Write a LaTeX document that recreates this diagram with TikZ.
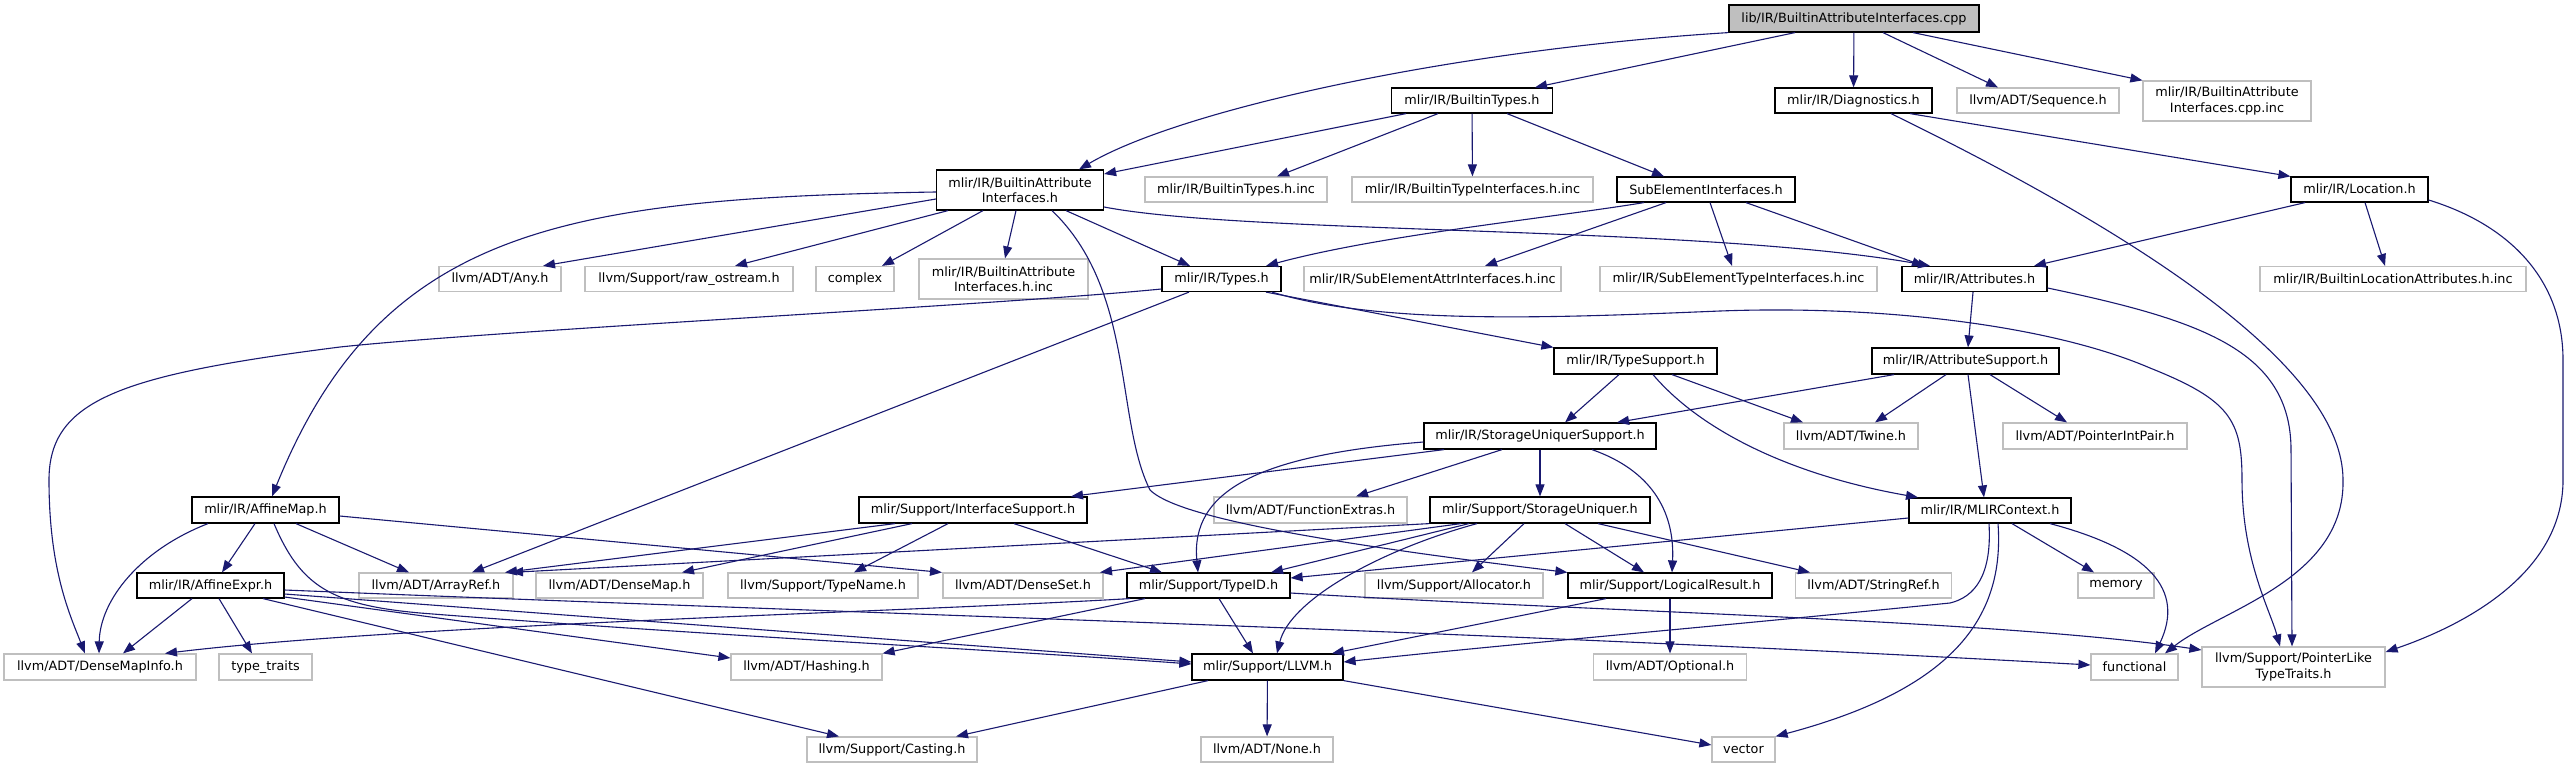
\documentclass[tikz,border=0pt]{standalone}
\usepackage{fontspec}
\setmainfont{DejaVu Sans}
\usetikzlibrary{arrows.meta}
\definecolor{grey75}{HTML}{BFBFBF}
\definecolor{edgecol}{HTML}{191970}
\newcommand{\fsz}{\fontsize{12.8}{15.2}\selectfont}
\tikzset{
  box/.style={rectangle, inner sep=0pt, minimum height=25pt, font=\fsz, align=center, fill=white, line width=1.2pt, text=black},
  nd/.style={box, draw=black},
  ext/.style={box, draw=grey75},
  root/.style={box, draw=black, fill=grey75},
  tall/.style={minimum height=40pt},
  e/.style={draw=edgecol, line width=1.1pt, -{Triangle[length=12pt,width=9pt]}},
}
\begin{document}
\begin{tikzpicture}[x=1pt,y=-1pt]
\useasboundingbox[fill=white] (0,0) rectangle (2571,768);
% nodes
\node[root, minimum width=250pt, minimum height=27pt] (cpp) at (1854,18.5) {lib/IR/BuiltinAttributeInterfaces.cpp};
\node[nd, minimum width=161pt] (bt) at (1472,100.5) {mlir/IR/BuiltinTypes.h};
\node[nd, minimum width=157pt] (diag) at (1853.5,100.5) {mlir/IR/Diagnostics.h};
\node[ext, minimum width=162pt] (seq) at (2038,100.5) {llvm/ADT/Sequence.h};
\node[ext, tall, minimum width=168pt] (cppinc) at (2227,101) {mlir/IR/BuiltinAttribute\\Interfaces.cpp.inc};
\node[nd, tall, minimum width=167pt] (bai) at (1020,190) {mlir/IR/BuiltinAttribute\\Interfaces.h};
\node[ext, minimum width=182pt] (btinc) at (1236,189.5) {mlir/IR/BuiltinTypes.h.inc};
\node[ext, minimum width=241pt] (btiinc) at (1472.5,189.5) {mlir/IR/BuiltinTypeInterfaces.h.inc};
\node[nd, minimum width=178pt] (sei) at (1706,189.5) {SubElementInterfaces.h};
\node[nd, minimum width=137pt] (loc) at (2359.5,189.5) {mlir/IR/Location.h};
\node[ext, minimum width=122pt] (any) at (500,279) {llvm/ADT/Any.h};
\node[ext, minimum width=208pt] (raw) at (689,279) {llvm/Support/raw\_ostream.h};
\node[ext, minimum width=78pt] (complex) at (855,279) {complex};
\node[ext, tall, minimum width=169pt] (baiinc) at (1003.5,279) {mlir/IR/BuiltinAttribute\\Interfaces.h.inc};
\node[nd, minimum width=119pt] (types) at (1221.5,279) {mlir/IR/Types.h};
\node[ext, minimum width=257pt] (seainc) at (1432.5,279) {mlir/IR/SubElementAttrInterfaces.h.inc};
\node[ext, minimum width=277pt] (setinc) at (1738.5,279) {mlir/IR/SubElementTypeInterfaces.h.inc};
\node[nd, minimum width=145pt] (attr) at (1974.5,279) {mlir/IR/Attributes.h};
\node[ext, minimum width=266pt] (blainc) at (2393,279) {mlir/IR/BuiltinLocationAttributes.h.inc};
\node[nd, minimum width=163pt, minimum height=26pt] (ts) at (1635.5,361) {mlir/IR/TypeSupport.h};
\node[nd, minimum width=187pt, minimum height=26pt] (as) at (1965.5,361) {mlir/IR/AttributeSupport.h};
\node[nd, minimum width=232pt, minimum height=26pt] (sus) at (1540,436) {mlir/IR/StorageUniquerSupport.h};
\node[ext, minimum width=134pt, minimum height=26pt] (twine) at (1851,436) {llvm/ADT/Twine.h};
\node[ext, minimum width=184pt, minimum height=26pt] (pip) at (2095,436) {llvm/ADT/PointerIntPair.h};
\node[nd, minimum width=147pt, minimum height=26pt] (amap) at (265.5,510) {mlir/IR/AffineMap.h};
\node[nd, minimum width=228pt, minimum height=26pt] (is) at (973,510) {mlir/Support/InterfaceSupport.h};
\node[ext, minimum width=193pt, minimum height=26pt] (fe) at (1310.5,510) {llvm/ADT/FunctionExtras.h};
\node[nd, minimum width=220pt, minimum height=26pt] (su) at (1540,510) {mlir/Support/StorageUniquer.h};
\node[nd, minimum width=162pt] (ctx) at (1990,510.5) {mlir/IR/MLIRContext.h};
\node[nd, minimum width=147pt] (aexpr) at (210.5,585.5) {mlir/IR/AffineExpr.h};
\node[ext, minimum width=154pt] (aref) at (436,585.5) {llvm/ADT/ArrayRef.h};
\node[ext, minimum width=167pt] (dmap) at (619.5,585.5) {llvm/ADT/DenseMap.h};
\node[ext, minimum width=190pt] (tname) at (823,585.5) {llvm/Support/TypeName.h};
\node[ext, minimum width=160pt] (dset) at (1023,585.5) {llvm/ADT/DenseSet.h};
\node[nd, minimum width=163pt] (tid) at (1208.5,585.5) {mlir/Support/TypeID.h};
\node[ext, minimum width=178pt] (alloc) at (1454,585.5) {llvm/Support/Allocator.h};
\node[nd, minimum width=204pt] (lr) at (1670,585.5) {mlir/Support/LogicalResult.h};
\node[ext, minimum width=156pt] (sref) at (1873.5,585.5) {llvm/ADT/StringRef.h};
\node[ext, minimum width=76pt] (mem) at (2116,585.5) {memory};
\node[ext, minimum width=192pt, minimum height=26pt] (dmi) at (100,667) {llvm/ADT/DenseMapInfo.h};
\node[ext, minimum width=93pt, minimum height=26pt] (tt) at (265.5,667) {type\_traits};
\node[ext, minimum width=151pt, minimum height=26pt] (hash) at (806.5,667) {llvm/ADT/Hashing.h};
\node[nd, minimum width=151pt, minimum height=26pt] (llvm) at (1267.5,667) {mlir/Support/LLVM.h};
\node[ext, minimum width=153pt, minimum height=26pt] (opt) at (1670,667) {llvm/ADT/Optional.h};
\node[ext, minimum width=87pt, minimum height=26pt] (func) at (2134.5,667) {functional};
\node[ext, tall, minimum width=183pt] (pltt) at (2293.5,667) {llvm/Support/PointerLike\\TypeTraits.h};
\node[ext, minimum width=170pt] (cast) at (892,749.5) {llvm/Support/Casting.h};
\node[ext, minimum width=132pt] (none) at (1267,749.5) {llvm/ADT/None.h};
\node[ext, minimum width=63pt] (vec) at (1743.5,749.5) {vector};
% edges
\draw[e] (cpp.south west) .. controls (1450,50) and (1180,110) .. (bai.north -| 1079,0);
\draw[e] (cpp.south -| 1795,0) -- (bt.north -| 1535,0);
\draw[e] (cpp) -- (diag);
\draw[e] (cpp.south -| 1883,0) -- (seq.north -| 1998,0);
\draw[e] (cpp.south -| 1913,0) -- (cppinc.north west);
\draw[e] (bt.south -| 1406,0) -- (bai.east |- 0,174);
\draw[e] (bt.south -| 1438,0) -- (btinc.north -| 1277,0);
\draw[e] (bt) -- (btiinc);
\draw[e] (bt.south -| 1507,0) -- (sei.north -| 1664,0);
\draw[e] (diag.south -| 1910,0) -- (loc.north west);
\draw[e] (diag.south -| 1891,0) .. controls (2150,240) and (2343,370) .. (2343,480) .. controls (2345,580) and (2220,610) .. (func.north -| 2165,0);
\draw[e] (bai.west |- 0,199) -- (any.north -| 543,0);
\draw[e] (bai.south -| 948,0) -- (raw.north -| 735,0);
\draw[e] (bai.south -| 983,0) -- (complex.north -| 882,0);
\draw[e] (bai.south -| 1016,0) -- (baiinc.north -| 1005,0);
\draw[e] (bai.south -| 1066,0) -- (types.north -| 1190,0);
\draw[e] (bai.east |- 0,207) .. controls (1250,235) and (1700,225) .. (attr.north -| 1930,0);
\draw[e] (bai.west |- 0,192) .. controls (560,198) and (380,230) .. (amap.north -| 272,0);
\draw[e] (bai.south -| 1052,0) .. controls (1135,290) and (1115,420) .. (1150,490) .. controls (1175,515) and (1300,540) .. (lr.north west);
\draw[e] (sei.south -| 1644,0) .. controls (1550,218) and (1380,235) .. (types.north -| 1266,0);
\draw[e] (sei.south -| 1666,0) -- (seainc.north -| 1485,0);
\draw[e] (sei.south -| 1710,0) -- (setinc.north -| 1732,0);
\draw[e] (sei.south -| 1746,0) -- (attr.north -| 1924,0);
\draw[e] (loc.south -| 2305,0) -- (attr.north -| 2034,0);
\draw[e] (loc.south -| 2365,0) -- (blainc.north -| 2385,0);
\draw[e] (loc.east |- 0,200) .. controls (2510,225) and (2563,280) .. (2563,360) -- (2563,480) .. controls (2563,580) and (2450,630) .. (pltt.east |- 0,652);
\draw[e] (types.west |- 0,289) .. controls (1000,305) and (500,330) .. (340,347) .. controls (120,375) and (49,400) .. (49,480) .. controls (49,570) and (70,615) .. (dmi.north -| 85,0);
\draw[e] (types.south -| 1189,0) -- (aref.north -| 472,0);
\draw[e] (types.south -| 1266,0) -- (ts.north west);
\draw[e] (types.south -| 1272,0) .. controls (1380,325) and (1550,318) .. (1720,311) .. controls (1880,305) and (2050,325) .. (2150,368) .. controls (2230,400) and (2242,420) .. (2242,480) .. controls (2242,560) and (2270,610) .. (pltt.north -| 2280,0);
\draw[e] (attr.south -| 1973,0) -- (as.north -| 1968,0);
\draw[e] (attr.east |- 0,288) .. controls (2200,320) and (2291,350) .. (2291,450) -- (pltt.north -| 2292,0);
\draw[e] (ts.south -| 1619,0) -- (sus.north -| 1565,0);
\draw[e] (ts.south -| 1672,0) -- (twine.north -| 1803,0);
\draw[e] (ts.south -| 1653,0) .. controls (1700,430) and (1790,475) .. (ctx.north -| 1918,0);
\draw[e] (as.south -| 1894,0) -- (sus.north -| 1617,0);
\draw[e] (as.south -| 1946,0) -- (twine.north -| 1875,0);
\draw[e] (as.south -| 1990,0) -- (pip.north -| 2067,0);
\draw[e] (as.south -| 1968,0) -- (ctx.north -| 1984,0);
\draw[e] (sus.south -| 1444,0) -- (is.north -| 1071,0);
\draw[e] (sus.south -| 1502,0) -- (fe.north -| 1356,0);
\draw[e] (sus) -- (su);
\draw[e] (sus.west |- 0,442) .. controls (1260,455) and (1190,490) .. (tid.north -| 1198,0);
\draw[e] (sus.south -| 1592,0) .. controls (1650,470) and (1675,510) .. (lr.north -| 1672,0);
\draw[e] (amap.south -| 255,0) -- (aexpr.north -| 222,0);
\draw[e] (amap.south -| 296,0) -- (aref.north -| 409,0);
\draw[e] (amap.south -| 208,0) .. controls (140,550) and (100,600) .. (dmi.north -| 99,0);
\draw[e] (amap.east |- 0,516) -- (dset.north -| 942,0);
\draw[e] (amap.south -| 274,0) .. controls (300,585) and (330,605) .. (420,613) .. controls (700,635) and (1000,650) .. (llvm.west |- 0,664);
\draw[e] (aexpr.south -| 192,0) -- (dmi.north -| 123,0);
\draw[e] (aexpr.south -| 219,0) -- (tt.north -| 252,0);
\draw[e] (aexpr.south -| 263,0) -- (cast.north -| 839,0);
\draw[e] (aexpr.east |- 0,597) -- (hash.west |- 0,658);
\draw[e] (aexpr.east |- 0,594) -- (llvm.west |- 0,662);
\draw[e] (aexpr.east |- 0,590) .. controls (900,615) and (1500,632) .. (func.west |- 0,665);
\draw[e] (is.south -| 895,0) -- (aref.north -| 505,0);
\draw[e] (is.south -| 912,0) -- (dmap.north -| 682,0);
\draw[e] (is.south -| 948,0) -- (tname.north -| 854,0);
\draw[e] (is.south -| 1014,0) -- (tid.north -| 1162,0);
\draw[e] (su.south west) -- (aref.north -| 511,0);
\draw[e] (su.south -| 1461,0) -- (dset.north -| 1100,0);
\draw[e] (su.south -| 1469,0) -- (tid.north -| 1271,0);
\draw[e] (su.south -| 1477,0) .. controls (1380,550) and (1290,600) .. (llvm.north -| 1277,0);
\draw[e] (su.south -| 1524,0) -- (alloc.north -| 1472,0);
\draw[e] (su.south -| 1565,0) -- (lr.north -| 1644,0);
\draw[e] (su.south -| 1598,0) -- (sref.north -| 1810,0);
\draw[e] (ctx.west |- 0,518) -- (tid.east |- 0,578);
\draw[e] (ctx.south -| 1989,0) .. controls (1992,575) and (1975,597) .. (1950,603) .. controls (1700,628) and (1500,645) .. (llvm.east |- 0,662);
\draw[e] (ctx.south -| 1998,0) .. controls (2005,620) and (1950,690) .. (vec.north east);
\draw[e] (ctx.south -| 2012,0) -- (mem.north -| 2094,0);
\draw[e] (ctx.south -| 2050,0) .. controls (2150,550) and (2185,590) .. (func.north -| 2155,0);
\draw[e] (tid.south -| 1130,0) .. controls (900,612) and (400,625) .. (dmi.north -| 165,0);
\draw[e] (tid.south -| 1145,0) -- (hash.north east);
\draw[e] (tid.south -| 1219,0) -- (llvm.north -| 1253,0);
\draw[e] (tid.east |- 0,593) .. controls (1600,612) and (2000,620) .. (pltt.west |- 0,650);
\draw[e] (lr.south -| 1606,0) -- (llvm.north -| 1332,0);
\draw[e] (lr) -- (opt);
\draw[e] (llvm.south -| 1208,0) -- (cast.north -| 956,0);
\draw[e] (llvm) -- (none);
\draw[e] (llvm.south east) -- (vec.west |- 0,745);
\end{tikzpicture}
\end{document}
